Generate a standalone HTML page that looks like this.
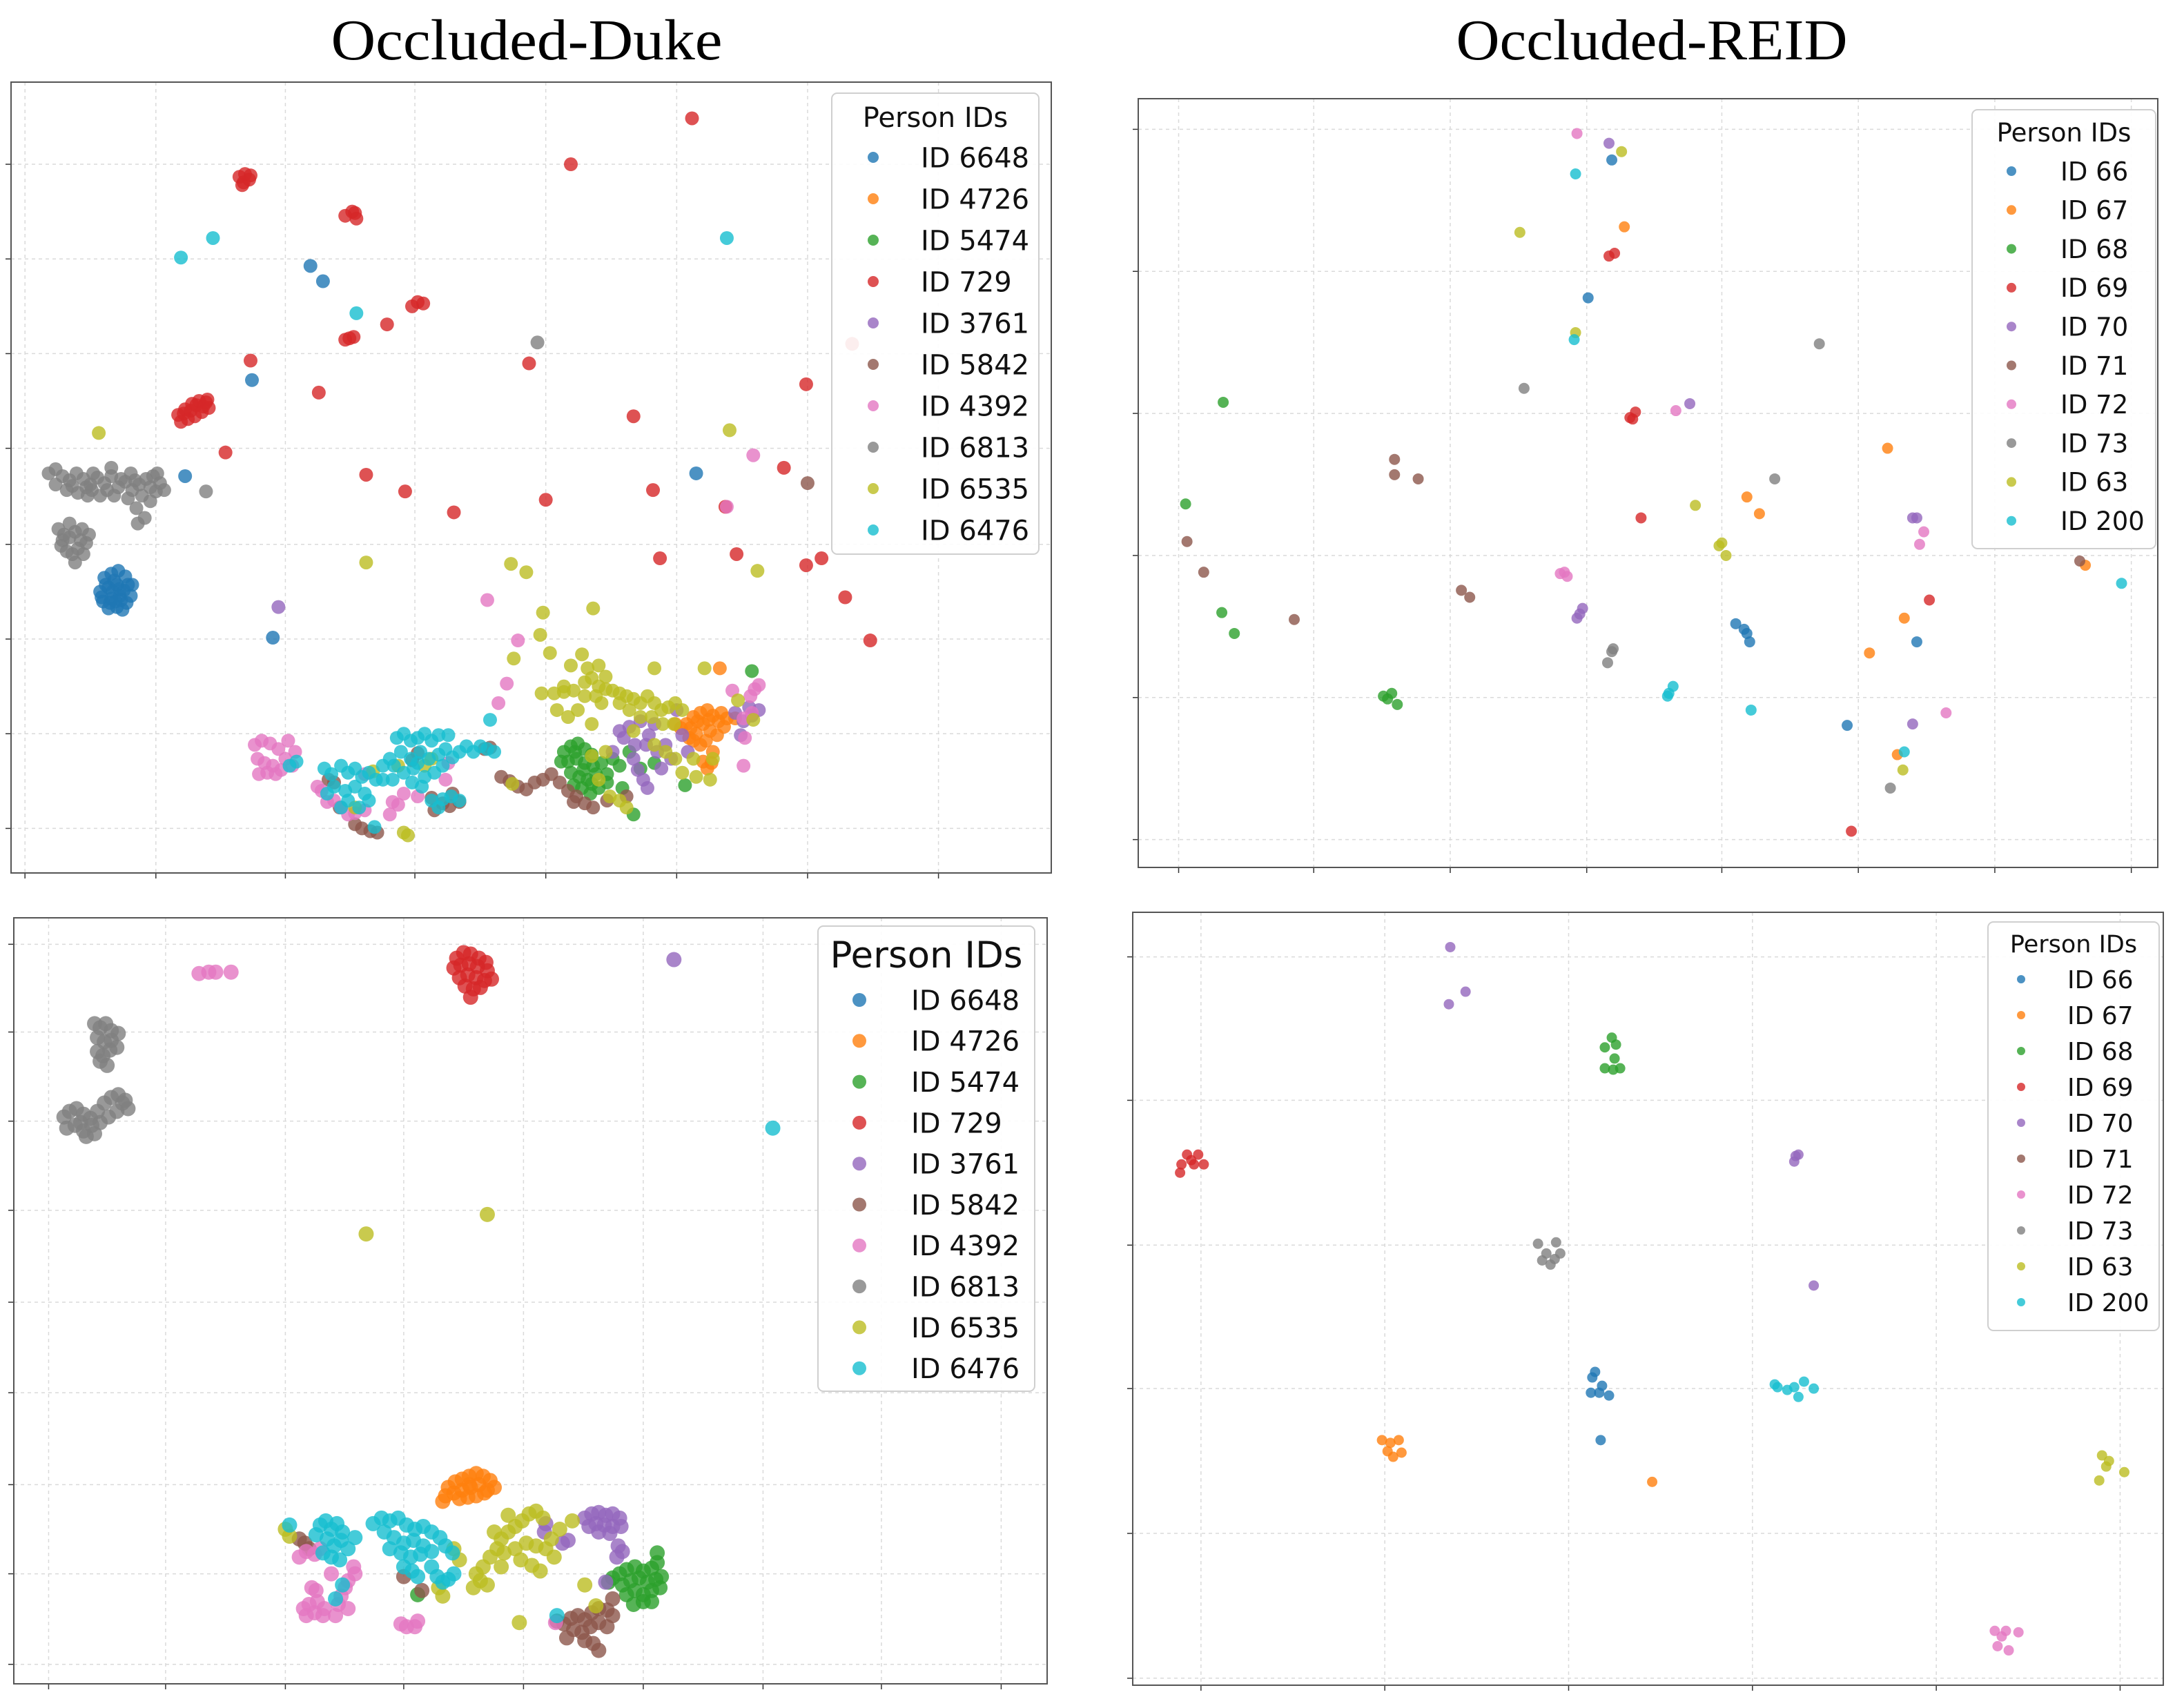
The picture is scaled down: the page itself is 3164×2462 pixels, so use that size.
<!DOCTYPE html>
<html><head><meta charset="utf-8"><style>
html,body{margin:0;padding:0;background:#fff;}
svg{display:block;}
</style></head><body>
<svg id="chart" width="3164" height="2462" viewBox="0 0 3164 2462" xmlns="http://www.w3.org/2000/svg">
<text x="763" y="86" font-family="Liberation Serif, serif" font-size="84" text-anchor="middle" textLength="567" lengthAdjust="spacingAndGlyphs">Occluded-Duke</text>
<text x="2393" y="86" font-family="Liberation Serif, serif" font-size="84" text-anchor="middle" textLength="567" lengthAdjust="spacingAndGlyphs">Occluded-REID</text>
</svg>
<script>
// ===== Data (values in display-pixel embedding units) =====
const dukeIds = ["ID 6648","ID 4726","ID 5474","ID 729","ID 3761","ID 5842","ID 4392","ID 6813","ID 6535","ID 6476"];
const reidIds = ["ID 66","ID 67","ID 68","ID 69","ID 70","ID 71","ID 72","ID 73","ID 63","ID 200"];
const tab10 = ["#1f77b4","#ff7f0e","#2ca02c","#d62728","#9467bd","#8c564b","#e377c2","#7f7f7f","#bcbd22","#17becf"];

// Top-left (Occluded-Duke, panel A)
const tl6648 = [[75,415],[80,412],[85,410],[90,414],[95,420],[72,425],[78,422],[84,420],[89,424],[94,428],[74,432],[80,430],[86,428],[91,433],[78,437],[84,436],[88,438],[82,417],[87,431],[76,420],[81,425],[86,423],[79,433],[83,432],[92,420],[73,429],[223,191],[232,202],[181,273],[133,342],[196,458],[500,340]];
const tl4726 = [[493,520],[498,515],[503,512],[508,510],[512,514],[516,518],[520,522],[505,520],[510,525],[500,527],[495,530],[515,528],[507,532],[512,540],[503,535],[518,512],[496,523],[522,516],[489,523],[517,480],[508,552],[505,547],[511,548],[485,520],[528,516],[501,518],[509,517],[498,532]];
const tl5474 = [[405,540],[410,536],[415,534],[420,538],[425,542],[408,547],[414,545],[420,548],[426,550],[410,555],[416,558],[422,560],[428,556],[432,548],[418,566],[424,570],[430,566],[436,562],[412,564],[440,545],[445,550],[452,540],[460,552],[470,548],[492,564],[455,585],[540,482],[403,547],[447,566],[436,556],[413,540],[419,553],[425,563]];
const tl729 = [[172,127],[176,125],[180,126],[175,131],[179,129],[174,133],[248,155],[253,152],[256,157],[255,153],[296,220],[300,217],[304,218],[251,243],[248,244],[254,242],[128,298],[133,294],[138,290],[143,288],[148,289],[150,293],[145,296],[140,299],[135,301],[130,303],[137,295],[146,292],[141,291],[149,287],[132,297],[497,85],[410,118],[278,233],[180,259],[229,282],[162,325],[263,341],[291,353],[326,368],[392,359],[380,261],[455,299],[469,352],[521,364],[563,336],[579,276],[474,401],[529,398],[579,406],[590,401],[607,429],[625,460],[612,247]];
const tl3761 = [[200,436],[445,525],[448,530],[452,522],[440,540],[455,545],[458,553],[462,560],[465,566],[470,520],[472,540],[478,535],[482,545],[490,528],[494,540],[460,518],[466,528],[486,510],[475,552],[528,512],[534,518],[540,514],[538,508],[545,510],[532,528],[464,535],[456,535]];
const tl5842 = [[580,347],[360,558],[366,561],[372,565],[378,567],[384,562],[390,560],[396,556],[402,562],[408,568],[414,572],[420,577],[426,580],[412,576],[255,592],[260,595],[266,597],[271,598],[236,560],[240,562],[300,541],[296,546],[318,577],[323,579],[330,576],[310,573],[325,570],[312,582],[348,538],[352,537],[244,580],[450,572],[436,575]];
const tl4392 = [[183,535],[188,532],[194,534],[200,538],[205,545],[210,550],[185,545],[190,548],[196,550],[202,553],[186,556],[192,555],[198,556],[207,532],[212,540],[350,431],[541,327],[522,364],[372,460],[364,491],[358,505],[322,548],[300,572],[290,570],[320,560],[245,580],[250,585],[255,584],[235,576],[240,575],[262,556],[282,576],[286,578],[280,585],[228,565],[231,568],[534,550],[539,500],[542,495],[545,492],[540,512],[535,530],[534,516],[526,496],[262,582]];
const tl6813 = [[35,340],[40,337],[45,342],[50,345],[55,340],[60,344],[65,348],[70,343],[75,347],[80,342],[85,350],[90,346],[95,352],[100,348],[105,344],[110,342],[115,347],[118,352],[40,348],[48,352],[56,354],[62,350],[72,356],[82,356],[92,358],[102,356],[112,353],[98,365],[104,372],[108,360],[42,380],[46,384],[50,386],[54,382],[58,388],[62,390],[44,392],[48,396],[52,398],[56,394],[60,398],[54,404],[50,376],[64,384],[386,246],[148,353],[99,376],[80,336],[67,340],[77,352],[87,344],[97,345],[108,350],[113,340],[52,349],[63,356],[45,388],[59,380],[66,352],[94,340]];
const tl6535 = [[71,311],[263,404],[367,405],[378,411],[390,440],[426,437],[524,309],[544,410],[395,469],[369,473],[388,456],[389,498],[541,517],[530,503],[470,480],[506,480],[398,498],[405,497],[412,496],[405,493],[420,490],[425,487],[430,493],[435,495],[440,496],[445,498],[450,500],[455,502],[460,505],[465,500],[470,505],[475,510],[480,508],[485,505],[490,510],[420,500],[428,500],[432,505],[445,505],[452,510],[460,515],[468,515],[476,520],[484,520],[418,470],[422,480],[430,478],[435,486],[410,478],[400,510],[415,510],[425,520],[408,515],[455,525],[470,535],[478,540],[485,545],[498,545],[490,555],[500,558],[430,560],[445,575],[450,580],[438,572],[293,600],[290,598],[305,550],[310,545],[286,550],[255,580],[368,563],[268,554],[425,543],[435,540],[512,545],[510,560]];
const tl6476 = [[130,185],[153,171],[256,225],[522,171],[352,517],[269,594],[208,550],[213,547],[285,530],[290,527],[295,532],[300,530],[305,527],[310,532],[315,528],[288,540],[295,545],[302,540],[308,545],[315,542],[320,538],[325,544],[330,540],[335,536],[340,540],[345,536],[350,538],[355,540],[283,550],[290,555],[297,552],[305,558],[312,555],[318,550],[296,562],[303,565],[282,560],[233,552],[238,556],[245,550],[250,555],[255,552],[260,558],[265,555],[270,560],[240,565],[248,568],[255,565],[262,570],[250,575],[245,580],[258,580],[265,575],[275,560],[275,550],[310,575],[318,574],[324,572],[330,575],[315,580],[235,570],[322,528],[300,548],[280,545]];

// Top-right (Occluded-REID, panel A)
const tr66 = [[1157,115],[1140,214],[1246,448],[1252,452],[1256,461],[1254,455],[1376,461],[1326,521]];
const tr67 = [[1166,163],[1254,357],[1263,369],[1355,322],[1367,444],[1342,469],[1362,542],[1497,406]];
const tr68 = [[878,289],[851,362],[877,440],[886,455],[993,500],[999,498],[1003,506],[996,502]];
const tr69 = [[1155,184],[1159,182],[1170,300],[1174,296],[1172,301],[1178,372],[1385,431],[1329,597]];
const tr70 = [[1155,103],[1213,290],[1134,441],[1136,437],[1132,444],[1373,372],[1376,372],[1373,520]];
const tr71 = [[1001,330],[1001,341],[1018,344],[852,389],[864,411],[929,445],[1049,424],[1055,429],[1493,403]];
const tr72 = [[1132,96],[1203,295],[1120,412],[1125,414],[1123,411],[1378,391],[1381,382],[1397,512]];
const tr73 = [[1094,279],[1306,247],[1274,344],[1157,468],[1154,476],[1158,466],[1357,566]];
const tr63 = [[1164,109],[1091,167],[1131,239],[1217,363],[1234,392],[1239,399],[1236,390],[1366,553]];
const tr200 = [[1131,125],[1130,244],[1197,500],[1201,493],[1198,498],[1257,510],[1367,540],[1523,419]];

// Bottom-left (Occluded-Duke, panel B)
const bl6648 = [];
const bl4726 = [[322,1068],[327,1064],[332,1062],[337,1060],[342,1058],[347,1060],[352,1063],[355,1068],[320,1074],[326,1072],[332,1070],[338,1068],[344,1066],[350,1070],[330,1076],[336,1075],[342,1074],[348,1072],[318,1078],[337,1066]];
const bl5474 = [[445,1130],[450,1127],[456,1125],[462,1128],[468,1126],[472,1122],[447,1138],[453,1135],[459,1133],[465,1136],[471,1134],[475,1132],[450,1145],[456,1142],[462,1145],[468,1142],[474,1140],[455,1152],[462,1150],[468,1150],[437,1136],[440,1133],[472,1115],[300,1145]];
const bl729 = [[328,688],[333,684],[338,685],[344,688],[349,691],[326,695],[331,693],[337,692],[343,694],[350,697],[330,702],[336,700],[342,702],[348,704],[334,708],[340,710],[345,709],[353,703],[338,716]];
const bl3761 = [[484,689],[420,1090],[425,1087],[430,1086],[435,1088],[440,1087],[445,1090],[423,1096],[428,1094],[434,1095],[440,1096],[446,1096],[430,1100],[438,1101],[444,1110],[447,1114],[443,1118],[392,1094],[404,1108],[408,1106],[391,1100],[435,1136]];
const bl5842 = [[215,1105],[219,1108],[222,1112],[400,1164],[405,1166],[410,1162],[415,1160],[420,1163],[425,1158],[430,1155],[436,1156],[440,1160],[412,1170],[418,1172],[424,1168],[430,1165],[436,1168],[420,1178],[426,1180],[430,1185],[407,1176],[440,1148],[290,1132],[303,1142]];
const bl4392 = [[143,699],[150,698],[155,698],[166,698],[215,1118],[220,1114],[226,1116],[230,1112],[218,1155],[222,1152],[228,1150],[233,1155],[220,1160],[226,1158],[232,1160],[245,1146],[248,1140],[250,1135],[243,1152],[250,1155],[241,1160],[254,1125],[255,1130],[288,1166],[292,1168],[298,1168],[300,1164],[224,1140],[227,1142],[399,1165],[238,1130]];
const bl6813 = [[68,735],[72,738],[76,735],[80,740],[70,745],[75,748],[80,747],[85,742],[70,755],[74,758],[79,754],[84,752],[72,762],[77,765],[46,802],[50,798],[55,796],[60,800],[65,803],[70,798],[75,792],[80,788],[85,786],[90,790],[92,796],[48,810],[54,808],[60,812],[66,808],[72,806],[78,802],[84,798],[88,792],[62,816],[68,814],[58,806]];
const bl6535 = [[263,886],[350,872],[205,1098],[208,1103],[342,1130],[347,1125],[352,1118],[357,1112],[360,1105],[365,1100],[370,1096],[375,1092],[380,1087],[385,1085],[390,1090],[362,1115],[370,1112],[378,1108],[385,1110],[392,1112],[398,1118],[355,1100],[345,1135],[350,1138],[340,1140],[374,1120],[382,1124],[388,1128],[360,1125],[396,1105],[402,1098],[330,1120],[326,1112],[315,1140],[318,1146],[365,1088],[373,1165],[428,1153],[420,1138],[411,1092]];
const bl6476 = [[555,810],[208,1095],[230,1095],[234,1092],[238,1098],[242,1094],[246,1100],[235,1105],[240,1110],[245,1106],[250,1112],[232,1115],[238,1118],[244,1120],[227,1102],[255,1104],[268,1094],[274,1090],[280,1092],[286,1090],[292,1095],[298,1098],[304,1096],[310,1100],[316,1104],[276,1100],[283,1104],[290,1108],[297,1106],[304,1110],[310,1114],[280,1112],[288,1115],[295,1118],[302,1116],[320,1110],[325,1115],[310,1125],[314,1132],[318,1136],[322,1134],[326,1130],[290,1125],[296,1128],[400,1160],[241,1148],[246,1138],[300,1132]];

// Bottom-right (Occluded-REID, panel B)
const br66 = [[1142,1000],[1145,985],[1148,1000],[1155,1002],[1150,995],[1143,989],[1149,1034]];
const br67 = [[992,1034],[998,1036],[1004,1034],[1000,1046],[1006,1043],[996,1042],[1186,1064]];
const br68 = [[1152,752],[1157,745],[1159,760],[1152,767],[1158,768],[1163,767],[1160,750]];
const br69 = [[848,836],[852,829],[860,829],[857,836],[864,836],[847,842],[855,833]];
const br70 = [[1041,680],[1052,712],[1040,721],[1289,830],[1288,834],[1291,829],[1302,923]];
const br71 = [];
const br72 = [[1432,1171],[1440,1171],[1449,1172],[1434,1182],[1442,1185],[1437,1175]];
const br73 = [[1104,893],[1117,892],[1110,900],[1116,904],[1120,900],[1107,905],[1113,908]];
const br63 = [[1509,1045],[1512,1053],[1507,1063],[1525,1057],[1514,1049]];
const br200 = [[1274,994],[1288,996],[1295,992],[1302,997],[1291,1003],[1283,998],[1276,996]];

// Grid tick positions (embedding units)
const tlXTicks = [18,112,205,298,392,486,580,674];
const tlYTicks = [118,186,254,322,391,459,527,595];
const trXTicks = [846,943,1041,1139,1236,1334,1432,1530];
const trYTicks = [93,195,297,399,501,603];
const blXTicks = [35,119,205,290,376,462,548,633,719];
const blYTicks = [678,741,805,869,935,1000,1066,1130,1195];
const brXTicks = [862,994,1126,1258,1390,1522];
const brYTicks = [687,790,894,997,1101,1205];

// ===== Rendering =====
const NS = "http://www.w3.org/2000/svg";
const svg = document.getElementById("chart");
function mk(tag, attrs, parent){
  const e = document.createElementNS(NS, tag);
  for (const k in attrs) e.setAttribute(k, attrs[k]);
  (parent||svg).appendChild(e);
  return e;
}
function scale(d0,d1,r0,r1){ return v => r0 + (v-d0)*(r1-r0)/(d1-d0); }

const panels = [
  {key:"duke-top", dx:[8,755], dy:[59,627], rx:[16,1523], ry:[119,1265], r:10, ids:dukeIds,
   series:[tl6648,tl4726,tl5474,tl729,tl3761,tl5842,tl4392,tl6813,tl6535,tl6476], xt:tlXTicks, yt:tlYTicks,
   leg:{x:1205,y:135,w:300,h:668,titleSize:40,titleY:184,firstY:228,step:60,mx:1265,mr:8,tx:1334,fs:40}},
  {key:"reid-top", dx:[817,1549], dy:[71,623], rx:[1649,3126], ry:[143,1257], r:8, ids:reidIds,
   series:[tr66,tr67,tr68,tr69,tr70,tr71,tr72,tr73,tr63,tr200], xt:trXTicks, yt:trYTicks,
   leg:{x:2857,y:159,w:266,h:636,titleSize:37,titleY:205,firstY:248,step:56.3,mx:2914,mr:7,tx:2985,fs:37}},
  {key:"duke-bottom", dx:[10,752], dy:[659,1209], rx:[20,1517], ry:[1330,2440], r:11, ids:dukeIds,
   series:[bl6648,bl4726,bl5474,bl729,bl3761,bl5842,bl4392,bl6813,bl6535,bl6476], xt:blXTicks, yt:blYTicks,
   leg:{x:1185,y:1342,w:314,h:674,titleSize:53,titleY:1402,firstY:1449,step:59.3,mx:1245,mr:10,tx:1320,fs:40}},
  {key:"reid-bottom", dx:[813,1553], dy:[655,1210], rx:[1641,3134], ry:[1322,2442], r:7.5, ids:reidIds,
   series:[br66,br67,br68,br69,br70,br71,br72,br73,br63,br200], xt:brXTicks, yt:brYTicks,
   leg:{x:2880,y:1336,w:248,h:592,titleSize:35,titleY:1380,firstY:1419,step:52,mx:2928,mr:6,tx:2995,fs:36}}
];

panels.forEach(p => {
  const xs = scale(p.dx[0],p.dx[1],p.rx[0],p.rx[1]);
  const ys = scale(p.dy[0],p.dy[1],p.ry[0],p.ry[1]);
  const g = mk("g", {});
  
  
  p.xt.forEach(t => {
    const X = xs(t);
    const l = mk("line", {x1:X,x2:X,y1:p.ry[0],y2:p.ry[1],stroke:"#dadada","stroke-width":1.5,"stroke-dasharray":"5 5"}, g);
    
    
    const tk = mk("line", {x1:X,x2:X,y1:p.ry[1],y2:p.ry[1]+8,stroke:"#333","stroke-width":1.5}, g);
    
    
  });
  p.yt.forEach(t => {
    const Y = ys(t);
    const l = mk("line", {x1:p.rx[0],x2:p.rx[1],y1:Y,y2:Y,stroke:"#dadada","stroke-width":1.5,"stroke-dasharray":"5 5"}, g);
    
    
    const tk = mk("line", {x1:p.rx[0]-8,x2:p.rx[0],y1:Y,y2:Y,stroke:"#333","stroke-width":1.5}, g);
    
    
  });
  p.series.forEach((arr, si) => {
    const sg = mk("g", {fill:tab10[si], "fill-opacity":0.8}, g);
    
    
    arr.forEach(pt => {
      const c = mk("circle", {cx:xs(pt[0]), cy:ys(pt[1]), r:p.r}, sg);
      
      
    });
  });
  const fr = mk("rect", {x:p.rx[0],y:p.ry[0],width:p.rx[1]-p.rx[0],height:p.ry[1]-p.ry[0],fill:"none",stroke:"#555","stroke-width":2}, g);
  
  
  const L = p.leg;
  const lg = mk("g", {}, g);
  
  
  mk("rect", {x:L.x,y:L.y,width:L.w,height:L.h,rx:8,fill:"#fff","fill-opacity":0.9,stroke:"#cfcfcf","stroke-width":2}, lg);
  const tt = mk("text", {x:L.x+L.w/2,y:L.titleY,"font-family":"DejaVu Sans, Liberation Sans, sans-serif","font-size":L.titleSize,"text-anchor":"middle",fill:"#111"}, lg);
  tt.textContent = "Person IDs";
  
  
  p.ids.forEach((id, i) => {
    const y = L.firstY + i*L.step;
    const e = mk("g", {}, lg);
    
    
    mk("circle", {cx:L.mx, cy:y, r:L.mr, fill:tab10[i], "fill-opacity":0.8}, e);
    const t = mk("text", {x:L.tx, y:y + L.fs*0.36, "font-family":"DejaVu Sans, Liberation Sans, sans-serif","font-size":L.fs, fill:"#111"}, e);
    t.textContent = id;
  });
});
</script>
</body></html>
